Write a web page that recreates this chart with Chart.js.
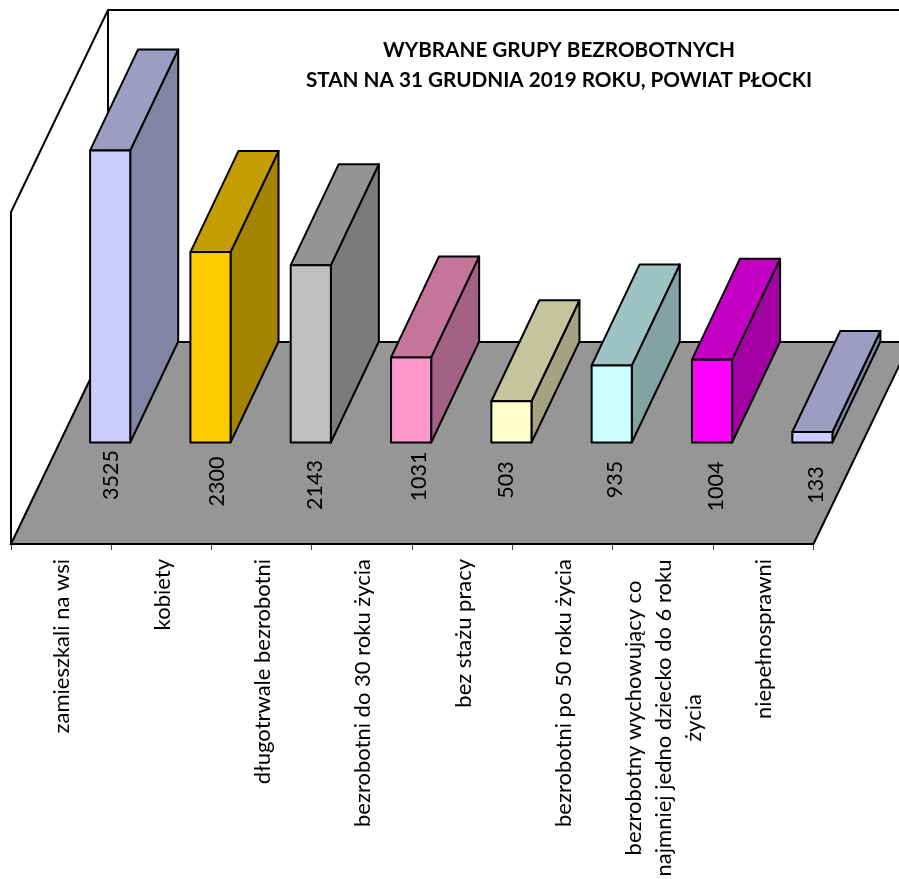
<!DOCTYPE html>
<html><head><meta charset="utf-8">
<style>html,body{margin:0;padding:0;background:#fff}#w{width:899px;height:879px;position:relative}</style>
<script src="https://cdn.jsdelivr.net/npm/chart.js@4"></script>
</head><body><div id="w"><canvas id="c" width="899" height="879"></canvas></div>
<script>
const categories = [
  ["zamieszkali na wsi"],
  ["kobiety"],
  ["długotrwale bezrobotni"],
  ["bezrobotni do 30 roku życia"],
  ["bez stażu pracy"],
  ["bezrobotni po 50 roku życia"],
  ["bezrobotny wychowujący co","najmniej jedno dziecko do 6 roku","życia"],
  ["niepełnosprawni"]
];
const values = [3525, 2300, 2143, 1031, 503, 935, 1004, 133];
const frontColors = ["#CCCCFF","#FFCC00","#C0C0C0","#FF99CC","#FFFFCC","#CCFFFF","#FF00FF","#CCCCFF"];
const topColors   = ["#9D9DC4","#C49D00","#949494","#C47599","#C4C49D","#9DC4C4","#C400C4","#9D9DC4"];
const sideColors  = ["#8383A4","#A38300","#7B7B7B","#A36283","#A3A383","#83A3A3","#A300A3","#8383A4"];
const titleLines = ["WYBRANE GRUPY BEZROBOTNYCH","STAN NA 31 GRUDNIA 2019 ROKU, POWIAT PŁOCKI"];
const valueLabelDx = [50, 56, 53, 57, 44, 52, 53, 53];
const valueLabelY  = [475, 481.5, 485, 476.5, 480, 479.5, 486.5, 485];

const FONT = 'Lato, Carlito, sans-serif';
const DEPTH = {x:97, y:-202};
const BAR_OFF = {x:49, y:-101};
const BAR_D = {x:48, y:-101};

function poly(ctx, pts, fill){
  ctx.beginPath();
  pts.forEach((p,i)=> i?ctx.lineTo(p[0],p[1]):ctx.moveTo(p[0],p[1]));
  ctx.closePath();
  if(fill){ctx.fillStyle=fill;ctx.fill();}
  ctx.stroke();
}
const threeD = {
  id:'threeD',
  beforeDraw(chart){
    const {ctx,chartArea:a}=chart;
    ctx.save();
    ctx.strokeStyle='#000';ctx.lineWidth=2;ctx.lineJoin='miter';
    const L=a.left,R=a.right,B=a.bottom,T=a.top;
    poly(ctx,[[L,B],[L+DEPTH.x,B+DEPTH.y],[R+DEPTH.x,B+DEPTH.y],[R,B]],'#969696');
    ctx.beginPath();
    ctx.moveTo(L,B);ctx.lineTo(L,T);ctx.lineTo(L+DEPTH.x,T+DEPTH.y);
    ctx.lineTo(R+DEPTH.x,T+DEPTH.y);
    ctx.moveTo(L+DEPTH.x,T+DEPTH.y);ctx.lineTo(L+DEPTH.x,B+DEPTH.y);
    ctx.stroke();
    ctx.restore();
  },
  beforeDatasetsDraw(chart){
    const {ctx}=chart;
    ctx.save();
    ctx.translate(BAR_OFF.x,BAR_OFF.y);
    ctx.save();
    ctx.strokeStyle='#000';ctx.lineWidth=2;ctx.lineJoin='round';
    chart.getDatasetMeta(0).data.forEach((b,i)=>{
      const l=b.x-b.width/2,r=b.x+b.width/2,t=b.y,bs=b.base;
      poly(ctx,[[r,t],[r+BAR_D.x,t+BAR_D.y],[r+BAR_D.x,bs+BAR_D.y],[r,bs]],sideColors[i]);
      poly(ctx,[[l,t],[l+BAR_D.x,t+BAR_D.y],[r+BAR_D.x,t+BAR_D.y],[r,t]],topColors[i]);
    });
    ctx.restore();
  },
  afterDatasetsDraw(chart){
    const {ctx,scales:{x}}=chart;
    ctx.save();
    ctx.strokeStyle='#000';ctx.lineWidth=2;ctx.lineJoin='round';
    chart.getDatasetMeta(0).data.forEach(b=>{
      ctx.strokeRect(b.x-b.width/2,b.y,b.width,b.base-b.y);
    });
    ctx.restore();
    ctx.restore();
    ctx.save();
    ctx.fillStyle='#000';
    // value labels on the floor
    ctx.font='21.5px '+FONT;
    ctx.textBaseline='middle';
    values.forEach((v,i)=>{
      ctx.save();
      ctx.translate(x.getPixelForTick(i)+valueLabelDx[i],valueLabelY[i]);
      ctx.rotate(-Math.PI/2);
      ctx.textAlign='center';
      ctx.fillText(String(v),0,0);
      ctx.restore();
    });
    // category labels
    ctx.font='22px '+FONT;
    categories.forEach((lines,i)=>{
      const px=x.getPixelForTick(i)+1;
      ctx.save();
      ctx.translate(px,559);
      ctx.rotate(-Math.PI/2);
      if(lines.length===1){
        ctx.textAlign='right';
        ctx.fillText(lines[0],0,0);
      }else{
        ctx.textAlign='center';
        lines.forEach((s,k)=>ctx.fillText(s,-159,(k-(lines.length-1)/2)*30));
      }
      ctx.restore();
    });
    // title
    ctx.font='bold 20.7px '+FONT;
    ctx.textAlign='center';
    titleLines.forEach((s,k)=>ctx.fillText(s,559,50+k*30));
    ctx.restore();
  }
};
new Chart(document.getElementById('c'),{
  type:'bar',
  data:{labels:categories,datasets:[{
    data:values,backgroundColor:frontColors,borderWidth:0,
    barPercentage:0.4,categoryPercentage:1,clip:false
  }]},
  options:{
    responsive:false,animation:false,
    layout:{padding:{left:11,right:85.5,top:212,bottom:0}},
    plugins:{legend:{display:false},tooltip:{enabled:false}},
    scales:{
      x:{offset:true,
        grid:{offset:true,drawOnChartArea:false,drawTicks:true,tickLength:6,color:'#444'},
        border:{display:true,color:'#000',width:2},
        ticks:{display:false},
        afterFit(s){s.height=335;}
      },
      y:{min:0,max:4000,
        grid:{drawOnChartArea:false,drawTicks:false},
        border:{display:false},
        ticks:{display:false},
        afterFit(s){s.width=0;}
      }
    }
  },
  plugins:[threeD]
});
</script></body></html>
